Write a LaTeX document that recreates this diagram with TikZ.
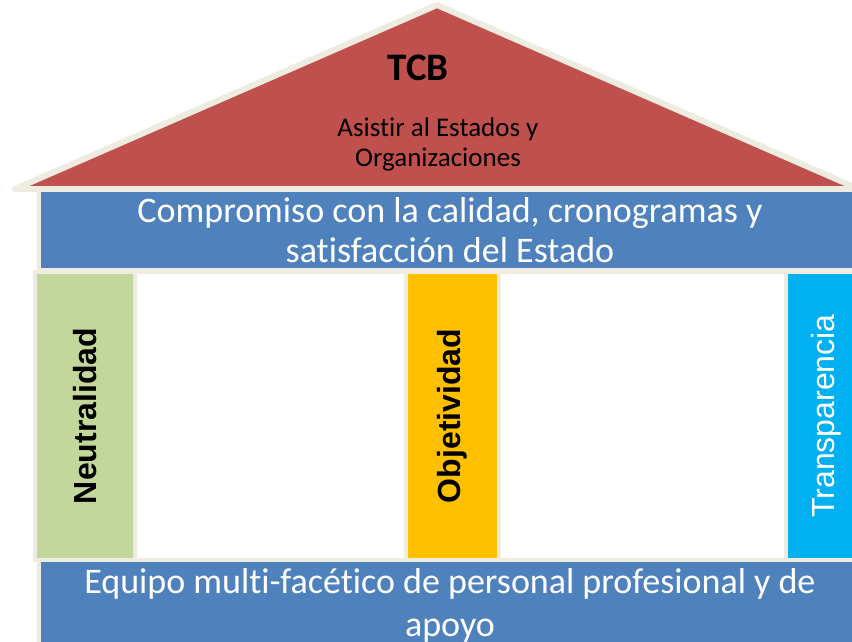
\documentclass[tikz,border=0pt]{standalone}
\usepackage{fontspec}
\setmainfont[Ligatures=NoCommon]{Carlito}
\newfontfamily\arialfont{Liberation Sans}
\definecolor{roofred}{HTML}{C0504D}
\definecolor{beamblue}{HTML}{4F81BD}
\definecolor{cream}{HTML}{EEECE1}
\definecolor{pillargreen}{HTML}{C3D69B}
\definecolor{pillaryellow}{HTML}{FFC000}
\definecolor{pillarcyan}{HTML}{00B0F0}
\usetikzlibrary{positioning}
\tikzset{
  block/.style={draw=cream, line width=4pt, inner sep=0, outer sep=0, align=center},
  beam/.style={block, fill=beamblue, text=white, minimum width=822pt},
  pillar/.style={block, rotate=90, minimum width=288pt,
    font=\arialfont\fontsize{32}{36}\selectfont}
}

\begin{document}
\begin{tikzpicture}[x=1pt, y=-1pt]
  \useasboundingbox (0,0) rectangle (852,642);
  \clip (0,0) rectangle (852,642);
  % frame behind the pillars
  \draw[cream, fill=white, line width=4pt] (35,272) rectangle (870,560);
  % roof
  \draw[fill=roofred, draw=cream, line width=6pt, line join=round]
    (15,189) -- (437,5) -- (859,189) -- cycle;
  \node[font=\fontsize{39}{40}\selectfont\bfseries] (tcb) at (418,68) {TCB};
  \node[font=\fontsize{27}{30}\selectfont, align=center] (mission) at (438,144)
    {Asistir al Estados y\\Organizaciones};
  % beams
  \node[beam, minimum height=80pt, font=\fontsize{36}{40}\selectfont] (commitment) at (450,230)
    {Compromiso con la calidad, cronogramas y\\satisfacción del Estado};
  \node[beam, minimum height=90pt, font=\fontsize{36}{43}\selectfont] (team) at (450,605)
    {Equipo multi-facético de personal profesional y de\\apoyo};
  % pillars
  \node[pillar, fill=pillargreen, minimum height=100pt] (neutral) at (85,416)
    {\bfseries Neutralidad};
  \node[pillar, fill=pillaryellow, minimum height=93pt] (objective) at (452,416)
    {\bfseries Objetividad};
  \node[pillar, fill=pillarcyan, text=white, minimum height=81pt] (transparent) at (826,416)
    {Transparencia};
\end{tikzpicture}
\end{document}
